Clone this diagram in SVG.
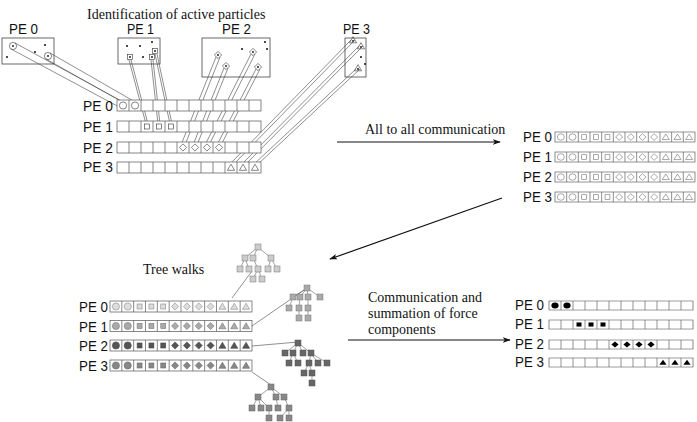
<svg xmlns="http://www.w3.org/2000/svg" xmlns:xlink="http://www.w3.org/1999/xlink" width="697" height="422" viewBox="0 0 697 422">
<style>
.pe{font-family:"Liberation Sans",Arial,sans-serif;fill:#111}
.cap{font-family:"Liberation Serif","Times New Roman",serif;font-size:14px;fill:#111}
.box{fill:#fff;stroke:#444;stroke-width:0.8}
.cell{fill:#fff;stroke:#555;stroke-width:0.7}
.ln{stroke:#444;stroke-width:0.6;fill:none}
.arr{stroke:#111;stroke-width:1.2;fill:none}
.tl{stroke:#666;stroke-width:0.6;fill:none}
</style>
<defs>
<marker id="ah" viewBox="0 0 10 10" refX="9" refY="5" markerWidth="8" markerHeight="8" orient="auto" markerUnits="userSpaceOnUse"><path d="M0,1.5L10,5L0,8.5L2.5,5Z" fill="#111"/></marker>
<circle id="c" r="3.6"/>
<rect id="s" x="-2.5" y="-2.5" width="5" height="5"/>
<path id="d" d="M0,-3.6L3.6,0L0,3.6L-3.6,0Z"/>
<path id="t" d="M0,-3.3L3.6,2.8L-3.6,2.8Z"/>
<g id="row"><rect class="cell" x="0" y="0" width="144" height="11"/><path class="cell" d="M12,0v11M24,0v11M36,0v11M48,0v11M60,0v11M72,0v11M84,0v11M96,0v11M108,0v11M120,0v11M132,0v11"/></g>
<g id="shapes">
<use href="#c" x="6" y="5.5"/><use href="#c" x="18" y="5.5"/>
<use href="#s" x="30" y="5.5"/><use href="#s" x="42" y="5.5"/><use href="#s" x="54" y="5.5"/>
<use href="#d" x="66" y="5.5"/><use href="#d" x="78" y="5.5"/><use href="#d" x="90" y="5.5"/><use href="#d" x="102" y="5.5"/>
<use href="#t" x="114" y="5.5"/><use href="#t" x="126" y="5.5"/><use href="#t" x="138" y="5.5"/>
</g>
<rect id="tn" x="-3" y="-3" width="6" height="6"/>
</defs>

<text class="cap" x="87" y="19">Identification of active particles</text>

<g id="pe-boxes">
<text class="pe" x="9" y="34" font-size="14" textLength="29" lengthAdjust="spacingAndGlyphs">PE 0</text>
<rect class="box" x="2" y="38" width="52" height="26"/>
<text class="pe" x="127" y="34" font-size="14" textLength="27" lengthAdjust="spacingAndGlyphs">PE 1</text>
<rect class="box" x="118" y="38" width="42" height="26"/>
<text class="pe" x="222" y="34" font-size="14" textLength="29" lengthAdjust="spacingAndGlyphs">PE 2</text>
<rect class="box" x="202" y="38" width="68" height="39"/>
<text class="pe" x="343" y="34" font-size="14" textLength="27" lengthAdjust="spacingAndGlyphs">PE 3</text>
<rect class="box" x="345" y="38" width="21" height="39"/>
<g fill="#111">
<circle cx="45" cy="45" r="1"/><circle cx="35" cy="52" r="1"/><circle cx="7" cy="57" r="1"/>
<circle cx="127" cy="46" r="1"/><circle cx="140" cy="46" r="1"/><circle cx="152" cy="42" r="1"/><circle cx="143" cy="57" r="1"/>
<circle cx="242" cy="49" r="1"/><circle cx="265" cy="42" r="1"/><circle cx="267" cy="49" r="1"/>
<circle cx="361" cy="57" r="1"/><circle cx="365" cy="64" r="1"/>
<circle cx="13" cy="46" r="0.9"/><circle cx="48" cy="56" r="0.9"/>
<circle cx="130" cy="57" r="0.9"/><circle cx="152" cy="57" r="0.9"/><circle cx="155" cy="51" r="0.9"/>
<circle cx="218" cy="55" r="0.9"/><circle cx="226" cy="66" r="0.9"/><circle cx="253" cy="52" r="0.9"/><circle cx="258" cy="67" r="0.9"/>
<circle cx="353" cy="41" r="0.9"/><circle cx="361" cy="47" r="0.9"/><circle cx="358" cy="69" r="0.9"/>
</g>
<g fill="none" stroke="#333" stroke-width="0.6">
<use href="#c" x="13" y="46"/><use href="#c" x="48" y="56"/>
<use href="#s" x="130" y="57"/><use href="#s" x="152" y="57"/><use href="#s" x="155" y="51"/>
<use href="#d" x="218" y="55"/><use href="#d" x="226" y="66"/><use href="#d" x="253" y="52"/><use href="#d" x="258" y="67"/>
<use href="#t" x="353" y="40"/><use href="#t" x="361" y="46"/><use href="#t" x="358" y="68"/>
</g>
</g>

<g id="connectors">
<path class="ln" d="M11,49L121,108M15,43L125,103M46,59L133,108M50,53L137,103"/>
<path class="ln" d="M129,60L146,124M131,60L148,124M151,60L158,124M153,60L160,124M155,54L170,124M157,54L172,124"/>
<path class="ln" d="M216,57L181,145M220,57L185,145M224,68L193,145M228,68L197,145M251,54L205,145M255,54L209,145M256,69L217,145M260,69L221,145"/>
<path class="ln" d="M351,40L229,165M355,40L233,165M359,46L241,165M363,46L245,165M356,69L253,165M360,69L257,165"/>
<path class="ln" d="M232,298L252,271"/>
<path class="ln" d="M252,326L307,288"/>
<path class="ln" d="M252,346L298,342"/>
<path class="ln" d="M252,372L271,385"/>
<path class="arr" d="M337,142H500" marker-end="url(#ah)"/>
<path class="arr" d="M502,198L330,259" marker-end="url(#ah)"/>
<path class="arr" d="M348,340H510" marker-end="url(#ah)"/>
</g>

<g id="array-initial">
<text class="pe" x="83" y="111" font-size="15" textLength="30" lengthAdjust="spacingAndGlyphs">PE 0</text>
<text class="pe" x="83" y="132" font-size="15" textLength="30" lengthAdjust="spacingAndGlyphs">PE 1</text>
<text class="pe" x="83" y="153" font-size="15" textLength="30" lengthAdjust="spacingAndGlyphs">PE 2</text>
<text class="pe" x="83" y="172" font-size="15" textLength="30" lengthAdjust="spacingAndGlyphs">PE 3</text>
<use href="#row" x="117" y="100"/><use href="#row" x="117" y="121"/><use href="#row" x="117" y="142"/><use href="#row" x="117" y="162"/>
<g fill="none" stroke="#333" stroke-width="0.6">
<use href="#c" x="123" y="105.5"/><use href="#c" x="135" y="105.5"/>
<use href="#s" x="147" y="126.5"/><use href="#s" x="159" y="126.5"/><use href="#s" x="171" y="126.5"/>
<use href="#d" x="183" y="147.5"/><use href="#d" x="195" y="147.5"/><use href="#d" x="207" y="147.5"/><use href="#d" x="219" y="147.5"/>
<use href="#t" x="231" y="167.5"/><use href="#t" x="243" y="167.5"/><use href="#t" x="255" y="167.5"/>
</g>
</g>

<text class="cap" x="365" y="134">All to all communication</text>

<g id="array-all">
<text class="pe" x="523" y="142" font-size="14" textLength="29" lengthAdjust="spacingAndGlyphs">PE 0</text>
<text class="pe" x="523" y="162" font-size="14" textLength="29" lengthAdjust="spacingAndGlyphs">PE 1</text>
<text class="pe" x="523" y="182" font-size="14" textLength="29" lengthAdjust="spacingAndGlyphs">PE 2</text>
<text class="pe" x="523" y="202" font-size="14" textLength="29" lengthAdjust="spacingAndGlyphs">PE 3</text>
<g transform="translate(555,132) scale(0.972,0.91)"><use href="#row"/><use href="#shapes" fill="none" stroke="#666" stroke-width="0.6"/></g>
<g transform="translate(555,152) scale(0.972,0.91)"><use href="#row"/><use href="#shapes" fill="none" stroke="#666" stroke-width="0.6"/></g>
<g transform="translate(555,172) scale(0.972,0.91)"><use href="#row"/><use href="#shapes" fill="none" stroke="#666" stroke-width="0.6"/></g>
<g transform="translate(555,192) scale(0.972,0.91)"><use href="#row"/><use href="#shapes" fill="none" stroke="#666" stroke-width="0.6"/></g>
</g>

<text class="cap" x="143" y="274">Tree walks</text>

<g id="array-tree">
<text class="pe" x="79" y="312" font-size="15" textLength="29" lengthAdjust="spacingAndGlyphs">PE 0</text>
<text class="pe" x="79" y="332" font-size="15" textLength="29" lengthAdjust="spacingAndGlyphs">PE 1</text>
<text class="pe" x="79" y="351" font-size="15" textLength="29" lengthAdjust="spacingAndGlyphs">PE 2</text>
<text class="pe" x="79" y="371" font-size="15" textLength="29" lengthAdjust="spacingAndGlyphs">PE 3</text>
<g transform="translate(110,301) scale(0.986,1)"><use href="#row"/><use href="#shapes" fill="#ddd" stroke="#888" stroke-width="0.6"/></g>
<g transform="translate(110,320.5) scale(0.986,1)"><use href="#row"/><use href="#shapes" fill="#aaa" stroke="#777" stroke-width="0.6"/></g>
<g transform="translate(110,340) scale(0.986,1)"><use href="#row"/><use href="#shapes" fill="#555" stroke="#444" stroke-width="0.6"/></g>
<g transform="translate(110,360) scale(0.986,1)"><use href="#row"/><use href="#shapes" fill="#888" stroke="#666" stroke-width="0.6"/></g>
</g>

<g id="tree0">
<path class="tl" d="M258,247L245,258M258,247L253,258M258,247L271,258M245,258L240,269M245,258L249,269M253,258L258,269M271,258L268,269M271,258L277,269M258,269L253,279M258,269L262,279"/>
<g fill="#ccc" stroke="#777" stroke-width="0.5">
<use href="#tn" x="258" y="247"/><use href="#tn" x="245" y="258"/><use href="#tn" x="253" y="258"/><use href="#tn" x="271" y="258"/>
<use href="#tn" x="240" y="269"/><use href="#tn" x="249" y="269"/><use href="#tn" x="258" y="269"/><use href="#tn" x="268" y="269"/><use href="#tn" x="277" y="269"/>
<use href="#tn" x="253" y="279"/><use href="#tn" x="262" y="279"/>
</g>
</g>
<g id="tree1">
<path class="tl" d="M307,288L293,297M307,288L300,297M307,288L308,297M307,288L320,297M293,297L289,308M300,297L299,308M308,297L308,308M299,308L299,318M308,308L308,318"/>
<g fill="#aaa" stroke="#777" stroke-width="0.5">
<use href="#tn" x="307" y="288"/><use href="#tn" x="293" y="297"/><use href="#tn" x="300" y="297"/><use href="#tn" x="308" y="297"/><use href="#tn" x="320" y="297"/>
<use href="#tn" x="289" y="308"/><use href="#tn" x="299" y="308"/><use href="#tn" x="308" y="308"/>
<use href="#tn" x="299" y="318"/><use href="#tn" x="308" y="318"/>
</g>
</g>
<g id="tree2">
<path class="tl" d="M298,343L285,353M298,343L293,353M298,343L303,353M298,343L311,353M293,353L289,363M293,353L298,363M311,353L309,363M311,353L318,363M311,353L327,363M309,363L304,373M309,363L312,373M312,373L312,383"/>
<g fill="#666" stroke="#555" stroke-width="0.5">
<use href="#tn" x="298" y="343"/><use href="#tn" x="285" y="353"/><use href="#tn" x="293" y="353"/><use href="#tn" x="303" y="353"/><use href="#tn" x="311" y="353"/>
<use href="#tn" x="289" y="363"/><use href="#tn" x="298" y="363"/><use href="#tn" x="309" y="363"/><use href="#tn" x="318" y="363"/><use href="#tn" x="327" y="363"/>
<use href="#tn" x="304" y="373"/><use href="#tn" x="312" y="373"/><use href="#tn" x="312" y="383"/>
</g>
</g>
<g id="tree3">
<path class="tl" d="M271,387L258,397M271,387L276,397M271,387L284,397M258,397L252,408M258,397L261,408M258,397L269,408M276,397L278,408M284,397L289,408M269,408L269,418M289,408L280,418M289,408L289,418"/>
<g fill="#888" stroke="#666" stroke-width="0.5">
<use href="#tn" x="271" y="387"/><use href="#tn" x="258" y="397"/><use href="#tn" x="276" y="397"/><use href="#tn" x="284" y="397"/>
<use href="#tn" x="252" y="408"/><use href="#tn" x="261" y="408"/><use href="#tn" x="269" y="408"/><use href="#tn" x="278" y="408"/><use href="#tn" x="289" y="408"/>
<use href="#tn" x="269" y="418"/><use href="#tn" x="280" y="418"/><use href="#tn" x="289" y="418"/>
</g>
</g>

<text class="cap" x="368" y="302">Communication and</text>
<text class="cap" x="368" y="318">summation of force</text>
<text class="cap" x="368" y="334">components</text>

<g id="array-result">
<text class="pe" x="515" y="310" font-size="14" textLength="29" lengthAdjust="spacingAndGlyphs">PE 0</text>
<text class="pe" x="515" y="329" font-size="14" textLength="29" lengthAdjust="spacingAndGlyphs">PE 1</text>
<text class="pe" x="515" y="349" font-size="14" textLength="29" lengthAdjust="spacingAndGlyphs">PE 2</text>
<text class="pe" x="515" y="367" font-size="14" textLength="29" lengthAdjust="spacingAndGlyphs">PE 3</text>
<g transform="translate(549,301) scale(1.0,0.82)"><use href="#row"/><use href="#c" x="6" y="5.5"/><use href="#c" x="18" y="5.5"/></g>
<g transform="translate(549,320) scale(1.0,0.82)"><use href="#row"/><use href="#s" x="30" y="5.5"/><use href="#s" x="42" y="5.5"/><use href="#s" x="54" y="5.5"/></g>
<g transform="translate(549,340) scale(1.0,0.82)"><use href="#row"/><use href="#d" x="66" y="5.5"/><use href="#d" x="78" y="5.5"/><use href="#d" x="90" y="5.5"/><use href="#d" x="102" y="5.5"/></g>
<g transform="translate(549,358) scale(1.0,0.82)"><use href="#row"/><use href="#t" x="114" y="5.5"/><use href="#t" x="126" y="5.5"/><use href="#t" x="138" y="5.5"/></g>
</g>
</svg>
